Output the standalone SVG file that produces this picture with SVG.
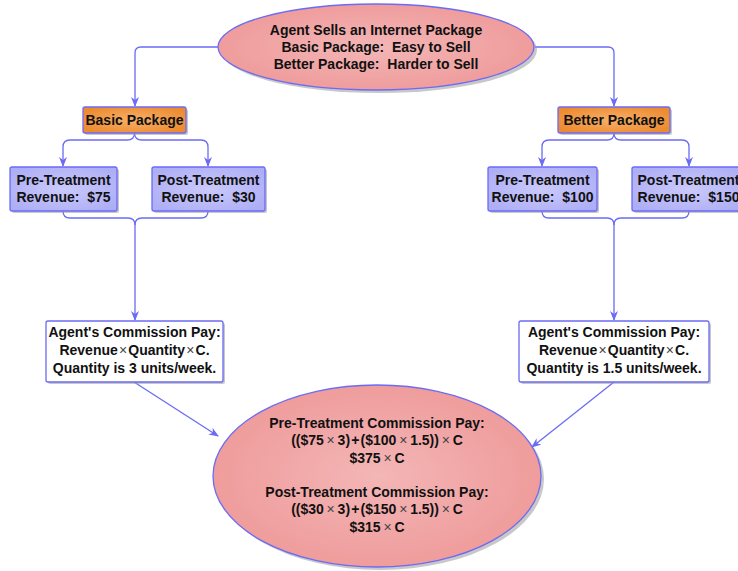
<svg xmlns="http://www.w3.org/2000/svg" width="738" height="571" viewBox="0 0 738 571">
<defs>
<radialGradient id="gRed" cx="50%" cy="50%" r="50%">
<stop offset="0" stop-color="#f4b6b6"/>
<stop offset="1" stop-color="#ef9c9c"/>
</radialGradient>
<radialGradient id="gOrange" cx="50%" cy="50%" r="60%">
<stop offset="0" stop-color="#f8b06a"/>
<stop offset="1" stop-color="#ec8a2e"/>
</radialGradient>
<radialGradient id="gBlue" cx="50%" cy="50%" r="60%">
<stop offset="0" stop-color="#cacafc"/>
<stop offset="1" stop-color="#aeaef6"/>
</radialGradient>
<marker id="arr" viewBox="0 0 10 8" refX="9" refY="4" markerWidth="10" markerHeight="8" markerUnits="userSpaceOnUse" orient="auto">
<path d="M0,0 L10,4 L0,8 L3,4 z" fill="#6b6bf5"/>
</marker>
</defs>
<style>
text{font-family:"Liberation Sans",Arial,sans-serif;font-weight:bold;font-size:14px;fill:#111;text-anchor:middle}
.x{font-weight:normal;fill:#444}
.sh{fill:#9a9a9a;opacity:0.55}
.ed{stroke:#6b6bf5;stroke-width:1.3}
.c{fill:none;stroke:#6b6bf5;stroke-width:1.3}
</style>

<g id="connectors">
<path class="c" d="M218,47 H141 Q135,47 135,53 V106" marker-end="url(#arr)"/>
<path class="c" d="M535,47 H608 Q614,47 614,53 V106" marker-end="url(#arr)"/>
<path class="c" d="M134.5,133 Q134.5,140 127,140 H70 Q63,140 63,147 V166" marker-end="url(#arr)"/>
<path class="c" d="M134.5,133 Q134.5,140 142,140 H201 Q208,140 208,147 V166" marker-end="url(#arr)"/>
<path class="c" d="M614,133 Q614,140 607,140 H549 Q542,140 542,147 V166" marker-end="url(#arr)"/>
<path class="c" d="M614,133 Q614,140 621,140 H682 Q689,140 689,147 V166" marker-end="url(#arr)"/>
<path class="c" d="M63,211 Q63,218 70,218 H128 Q135,218 135,225 V320" marker-end="url(#arr)"/>
<path class="c" d="M208,211 Q208,218 201,218 H142 Q135,218 135,225"/>
<path class="c" d="M542,211 Q542,218 549,218 H607 Q614,218 614,225 V320" marker-end="url(#arr)"/>
<path class="c" d="M689,211 Q689,218 682,218 H621 Q614,218 614,225"/>
<path class="c" d="M134,382 L218,436" marker-end="url(#arr)"/>
<path class="c" d="M614,382 L532,447" marker-end="url(#arr)"/>
</g>

<g id="top">
<ellipse class="sh" cx="379" cy="50" rx="158" ry="43"/>
<ellipse class="ed" cx="376" cy="47" rx="158" ry="43" fill="url(#gRed)"/>
<text x="376" y="35">Agent Sells an Internet Package</text>
<text x="376" y="52">Basic Package:&#160; Easy to Sell</text>
<text x="376" y="69">Better Package:&#160; Harder to Sell</text>
</g>

<g id="basic">
<rect class="sh" x="85" y="109" width="103" height="26" rx="2"/>
<rect class="ed" x="83" y="107" width="103" height="26" rx="2" fill="url(#gOrange)"/>
<text x="134.5" y="125">Basic Package</text>
</g>

<g id="better">
<rect class="sh" x="560" y="109" width="112" height="26" rx="2"/>
<rect class="ed" x="558" y="107" width="112" height="26" rx="2" fill="url(#gOrange)"/>
<text x="614" y="125">Better Package</text>
</g>

<g id="basicPre">
<rect class="sh" x="12" y="169" width="107" height="44" rx="2"/>
<rect class="ed" x="10" y="167" width="107" height="44" rx="2" fill="url(#gBlue)"/>
<text x="63.5" y="185">Pre-Treatment</text>
<text x="63.5" y="202">Revenue:&#160; $75</text>
</g>

<g id="basicPost">
<rect class="sh" x="154" y="169" width="113" height="44" rx="2"/>
<rect class="ed" x="152" y="167" width="113" height="44" rx="2" fill="url(#gBlue)"/>
<text x="208.5" y="185">Post-Treatment</text>
<text x="208.5" y="202">Revenue:&#160; $30</text>
</g>

<g id="betterPre">
<rect class="sh" x="490" y="169" width="109" height="44" rx="2"/>
<rect class="ed" x="488" y="167" width="109" height="44" rx="2" fill="url(#gBlue)"/>
<text x="542.5" y="185">Pre-Treatment</text>
<text x="542.5" y="202">Revenue:&#160; $100</text>
</g>

<g id="betterPost">
<rect class="sh" x="634" y="169" width="113" height="44" rx="2"/>
<rect class="ed" x="632" y="167" width="113" height="44" rx="2" fill="url(#gBlue)"/>
<text x="688.5" y="185">Post-Treatment</text>
<text x="688.5" y="202">Revenue:&#160; $150</text>
</g>

<g id="commLeft">
<rect class="sh" x="48" y="323" width="177" height="61" rx="2"/>
<rect class="ed" x="46" y="321" width="177" height="61" rx="2" fill="#ffffff"/>
<text x="134.5" y="337">Agent's Commission Pay:</text>
<text x="134.5" y="355">Revenue<tspan class="x">&#8202;×&#8202;</tspan>Quantity<tspan class="x">&#8202;×&#8202;</tspan>C.</text>
<text x="134.5" y="373">Quantity is 3 units/week.</text>
</g>

<g id="commRight">
<rect class="sh" x="521" y="323" width="190" height="61" rx="2"/>
<rect class="ed" x="519" y="321" width="190" height="61" rx="2" fill="#ffffff"/>
<text x="614" y="337">Agent's Commission Pay:</text>
<text x="614" y="355">Revenue<tspan class="x">&#8202;×&#8202;</tspan>Quantity<tspan class="x">&#8202;×&#8202;</tspan>C.</text>
<text x="614" y="373">Quantity is 1.5 units/week.</text>
</g>

<g id="result">
<ellipse class="sh" cx="380" cy="479" rx="164" ry="91"/>
<ellipse class="ed" cx="377" cy="476" rx="164" ry="91" fill="url(#gRed)"/>
<text x="377" y="428">Pre-Treatment Commission Pay:</text>
<text x="377" y="445">(($75<tspan class="x">&#8201;×&#8201;</tspan>3)&#8202;+&#8202;($100<tspan class="x">&#8201;×&#8201;</tspan>1.5))<tspan class="x">&#8201;×&#8201;</tspan>C</text>
<text x="377" y="463">$375<tspan class="x">&#8201;×&#8201;</tspan>C</text>
<text x="377" y="497">Post-Treatment Commission Pay:</text>
<text x="377" y="514">(($30<tspan class="x">&#8201;×&#8201;</tspan>3)&#8202;+&#8202;($150<tspan class="x">&#8201;×&#8201;</tspan>1.5))<tspan class="x">&#8201;×&#8201;</tspan>C</text>
<text x="377" y="532">$315<tspan class="x">&#8201;×&#8201;</tspan>C</text>
</g>
</svg>
